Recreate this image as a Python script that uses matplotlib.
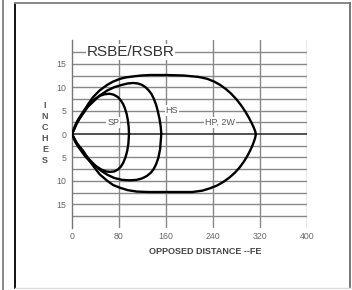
import matplotlib
matplotlib.use("Agg")
import matplotlib.pyplot as plt
from matplotlib.lines import Line2D

plt.rcParams['font.family'] = ['Liberation Sans', 'DejaVu Sans']

# curve data (x = distance in feet, y = inches)
hp_top_x = [0, 4, 8, 13, 19, 27, 36, 47, 60, 70, 82, 92, 104, 118, 133, 160, 190, 215, 230, 242, 252, 262, 271, 280, 288, 295, 301, 306, 310, 312, 313]
hp_top_y = [0, 1.2, 2.3, 3.4, 4.5, 6.3, 7.9, 9.3, 10.5, 11.2, 11.8, 12.1, 12.3, 12.5, 12.6, 12.6, 12.5, 12.2, 11.8, 11.2, 10.5, 9.6, 8.6, 7.4, 6.1, 4.8, 3.5, 2.3, 1.2, 0.5, 0]
hp_bot_x = [0, 4, 8, 13, 19, 27, 36, 47, 60, 70, 82, 95, 110, 130, 160, 205, 222, 235, 247, 258, 268, 277, 285, 292, 298, 303, 307, 310, 312, 313]
hp_bot_y = [0, -1.0, -1.9, -2.7, -3.6, -5.2, -6.8, -8.6, -10.0, -10.9, -11.5, -12.0, -12.3, -12.4, -12.4, -12.4, -12.1, -11.6, -11.0, -10.2, -9.3, -8.3, -7.2, -6.0, -4.8, -3.6, -2.5, -1.5, -0.7, 0]

hs_top_x = [0, 4, 8, 13, 19, 27, 36, 47, 60, 72, 85, 95, 104, 112, 119, 125, 130, 135, 139, 143, 146, 149, 151, 152]
hs_top_y = [0, 1.1, 2.2, 3.3, 4.4, 5.8, 6.9, 8.2, 9.3, 10.0, 10.5, 10.8, 10.9, 10.8, 10.5, 10.0, 9.4, 8.6, 7.6, 6.3, 4.9, 3.2, 1.6, 0]
hs_bot_x = [0, 4, 8, 13, 20, 30, 40, 50, 60, 72, 85, 98, 110, 119, 127, 134, 139, 143, 147, 150, 152]
hs_bot_y = [0, -1.0, -2.0, -2.9, -4.0, -5.5, -6.8, -7.9, -8.7, -9.4, -9.8, -9.9, -9.8, -9.5, -9.0, -8.3, -7.5, -6.5, -5.1, -3.2, 0]

sp_top_x = [0, 3, 6, 10, 15, 22, 30, 39, 48, 56, 64, 71, 78, 83, 87, 90, 93, 95, 96.5, 97]
sp_top_y = [0, 1.0, 2.0, 3.0, 4.0, 5.3, 6.5, 7.5, 8.2, 8.5, 8.6, 8.4, 7.9, 7.2, 6.4, 5.5, 4.3, 3.0, 1.5, 0]
sp_bot_x = [0, 3, 6, 10, 15, 22, 30, 40, 50, 58, 65, 72, 78, 83, 87, 91, 94, 96, 97]
sp_bot_y = [0, -0.9, -1.8, -2.6, -3.5, -4.7, -5.8, -6.8, -7.6, -8.0, -8.1, -8.0, -7.6, -7.0, -6.2, -5.0, -3.6, -2.0, 0]

x_ticks = [0, 80, 160, 240, 320, 400]
y_ticks = [15, 10, 5, 0, -5, -10, -15]
h_lines = [-17.5, -15, -12.5, -10, -7.5, -5, -2.5, 2.5, 5, 7.5, 10, 12.5, 15, 17.5]

fig = plt.figure(figsize=(3.52, 2.90), dpi=100)
W, H = 352, 290

# outer frame of the panel
fig.add_artist(Line2D([15 / W, 15 / W], [2 / H, 287 / H], color='#111111', lw=1.4))
fig.add_artist(Line2D([15 / W, 350 / W], [287 / H, 287 / H], color='#888888', lw=1.4))
fig.add_artist(Line2D([350 / W, 350 / W], [2 / H, 287 / H], color='#777777', lw=1.4))
fig.add_artist(Line2D([15 / W, 350 / W], [2 / H, 2 / H], color='#dddddd', lw=1.0))
fig.add_artist(Line2D([3 / W, 3 / W], [0, 1], color='#888888', lw=1.4))

ax = fig.add_axes([72 / W, (290 - 227.6) / H, 235 / W, 187.2 / H])
ax.set_xlim(0, 400)
ax.set_ylim(-20, 20)
for s in ['top', 'right', 'bottom']:
    ax.spines[s].set_visible(False)
ax.spines['left'].set_color('#777777')
ax.spines['left'].set_linewidth(1.0)

grid_c = '#888888'
for x in x_ticks[1:]:
    ax.axvline(x, color=grid_c, lw=1.0, zorder=1)
ax.hlines(h_lines, 0, 400, color=grid_c, lw=1.0, zorder=1)
ax.hlines([0], 0, 400, color='#333333', lw=1.2, zorder=1)

for xs, ys in [(hp_top_x, hp_top_y), (hp_bot_x, hp_bot_y),
               (hs_top_x, hs_top_y), (hs_bot_x, hs_bot_y),
               (sp_top_x, sp_top_y), (sp_bot_x, sp_bot_y)]:
    ax.plot(xs, ys, color='black', lw=1.7, solid_capstyle='round',
            solid_joinstyle='round', zorder=3)

ax.set_xticks(x_ticks)
ax.set_xticklabels([str(v) for v in x_ticks])
ax.set_yticks(y_ticks)
ax.set_yticklabels([str(abs(v)) for v in y_ticks])
ax.tick_params(length=0, labelsize=6.3, labelcolor='#666666')
ax.tick_params(axis='y', pad=4)
ax.tick_params(axis='x', pad=3)

box = dict(facecolor='white', edgecolor='none', pad=0.6)
ax.text(100, 17.5, 'RSBE/RSBR', fontsize=11, color='#333333',
        ha='center', va='center', bbox=box, zorder=2)
ax.text(70, 2.5, 'SP', fontsize=6.5, color='#555555', ha='center', va='center',
        bbox=box, zorder=2)
ax.text(170, 5, 'HS', fontsize=6.5, color='#555555', ha='center', va='center',
        bbox=box, zorder=2)
ax.text(252, 2.5, 'HP, 2W', fontsize=6.5, color='#555555', ha='center', va='center',
        bbox=box, zorder=2)

fig.text(205 / W, 1 - 251 / H, 'OPPOSED DISTANCE --FE', fontsize=6.5,
         color='#444444', ha='center', va='center', fontweight='bold')
fig.text(45 / W, 1 - 133 / H, 'I\nN\nC\nH\nE\nS', fontsize=6.5, color='#555555',
         ha='center', va='center', fontweight='bold', linespacing=1.3)

fig.savefig('out.png', dpi=100)
